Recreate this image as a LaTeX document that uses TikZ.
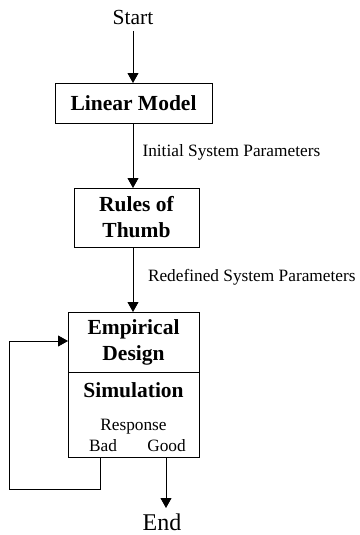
\documentclass[tikz,border=0pt]{standalone}
\usepackage{fontspec}
\setmainfont{Liberation Serif}
\usetikzlibrary{arrows.meta}
\begin{document}
\begin{tikzpicture}[x=1pt,y=-1pt,
  every node/.style={inner sep=0pt,outer sep=0pt},
  stagebox/.style={draw,line width=0.9pt,align=center,font=\fontsize{21.5}{26}\selectfont\bfseries},
  lbl/.style={font=\fontsize{17.3}{20}\selectfont},
  link/.style={line width=0.9pt,-{Triangle[width=11pt,length=10pt]}},
  plain/.style={line width=0.9pt}]
\useasboundingbox (0,0) rectangle (359,535);

\node[font=\fontsize{21.5}{26}\selectfont] (start) at (133,17) {Start};
\node[stagebox,minimum width=157pt,minimum height=40pt] (lm) at (133.5,103) {Linear Model};
\node[stagebox,minimum width=125pt,minimum height=59pt] (rt) at (136.5,217.5) {Rules of\\Thumb};
\node[stagebox,minimum width=131pt,minimum height=60pt] (ed) at (133.5,342) {Empirical\\Design};
\node[draw,line width=0.9pt,minimum width=131pt,minimum height=85pt] (sim) at (133.5,414.5) {};
\node[font=\fontsize{21.5}{26}\selectfont\bfseries] (simt) at (133.5,390) {Simulation};
\node[lbl] (resp) at (133.5,427) {Response};
\node[lbl] (bad) at (103,446) {Bad};
\node[lbl] (good) at (166.5,446) {Good};
\node[font=\fontsize{24}{28}\selectfont] (end) at (162,522.5) {End};

\node[lbl,anchor=west] (p1) at (142.5,152) {Initial System Parameters};
\node[lbl,anchor=west] (p2) at (148,277) {Redefined System Parameters};

\coordinate (s0) at (133,31);
\coordinate (badout) at (100.7,457);
\coordinate (goodout) at (166,457);
\coordinate (loopa) at (100.7,489);
\coordinate (loopb) at (9,489);
\coordinate (loopc) at (9,341);
\coordinate (endin) at (166,508);

\draw[link] (s0) -- (s0 |- lm.north);
\draw[link] (lm.south -| s0) -- (s0 |- rt.north);
\draw[link] (rt.south -| s0) -- (s0 |- ed.north);
\draw[plain] (badout) -- (loopa) -- (loopb) -- (loopc);
\draw[link] (loopc) -- (loopc -| ed.west);
\draw[link] (goodout) -- (endin);
\end{tikzpicture}
\end{document}
